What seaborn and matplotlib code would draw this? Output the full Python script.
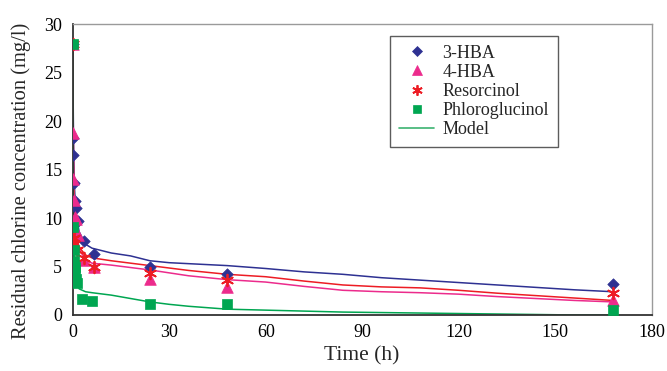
import numpy as np
import pandas as pd
import matplotlib
matplotlib.use("Agg")
import matplotlib.pyplot as plt
from matplotlib.lines import Line2D
import seaborn as sns

# Measured residual chlorine (mg/l) versus time (h)
t_3hba = [0, 0.1, 0.2, 0.4, 0.6, 1.0, 1.5, 3.5, 6.5, 24, 48, 168]
c_3hba = [28, 18.3, 16.5, 13.6, 11.8, 11.0, 9.7, 7.6, 6.3, 5.0, 4.2, 3.2]

t_4hba = [0, 0.1, 0.2, 0.5, 0.8, 1.0, 1.5, 3.5, 6.5, 24, 48, 168]
c_4hba = [28, 18.8, 14.0, 11.9, 10.1, 9.9, 8.3, 5.7, 5.0, 3.7, 2.9, 1.55]

t_res = [0, 0.1, 0.5, 0.3, 1.2, 3.5, 6.5, 24, 48, 168]
c_res = [28, 7.8, 8.0, 7.3, 6.7, 5.9, 5.0, 4.3, 3.6, 2.3]

t_phl = [0, 0.1, 0.25, 0.4, 0.6, 0.8, 1.0, 1.2, 3.0, 6.0, 24, 48, 168]
c_phl = [28, 9.1, 6.7, 5.6, 5.0, 4.6, 3.7, 3.3, 1.7, 1.4, 1.1, 1.1, 0.55]

# Model predictions
t_model = [0, 0.25, 0.5, 1, 2, 4, 6, 12, 18, 24, 30, 36, 48, 60, 72, 84, 96,
           108, 120, 132, 144, 156, 168]
m_3hba = [28, 18, 13.5, 10.5, 8.6, 7.3, 6.9, 6.4, 6.1, 5.6, 5.4, 5.3, 5.1, 4.8,
          4.45, 4.2, 3.85, 3.6, 3.35, 3.1, 2.85, 2.6, 2.4]
m_res = [28, 14, 10, 8, 7, 6.2, 5.9, 5.6, 5.35, 5.1, 4.85, 4.6, 4.2, 3.95, 3.5,
         3.1, 2.9, 2.8, 2.55, 2.25, 2.0, 1.75, 1.5]
m_4hba = [28, 16, 12, 9, 6.8, 5.7, 5.35, 5.15, 4.9, 4.65, 4.35, 4.05, 3.65, 3.4,
          2.95, 2.55, 2.4, 2.3, 2.15, 1.9, 1.7, 1.5, 1.35]
m_phl = [28, 9, 5.5, 3.5, 2.7, 2.4, 2.3, 2.05, 1.7, 1.35, 1.1, 0.9, 0.6, 0.5,
         0.4, 0.3, 0.25, 0.2, 0.15, 0.1, 0.05, 0.0, 0.0]

compounds = ["3-HBA", "4-HBA", "Resorcinol", "Phloroglucinol"]
colors = {"3-HBA": "#2e3192", "4-HBA": "#ec2b8c",
          "Resorcinol": "#ed1c24", "Phloroglucinol": "#00a651"}
markers = {"3-HBA": "D", "4-HBA": "^", "Resorcinol": (6, 2, 0),
           "Phloroglucinol": "s"}
sizes = {"3-HBA": 34, "4-HBA": 70, "Resorcinol": 70, "Phloroglucinol": 48}

obs = pd.concat([
    pd.DataFrame({"time": t_3hba, "conc": c_3hba, "compound": "3-HBA"}),
    pd.DataFrame({"time": t_4hba, "conc": c_4hba, "compound": "4-HBA"}),
    pd.DataFrame({"time": t_res, "conc": c_res, "compound": "Resorcinol"}),
    pd.DataFrame({"time": t_phl, "conc": c_phl, "compound": "Phloroglucinol"}),
], ignore_index=True)

model = pd.concat([
    pd.DataFrame({"time": t_model, "conc": m_3hba, "compound": "3-HBA"}),
    pd.DataFrame({"time": t_model, "conc": m_4hba, "compound": "4-HBA"}),
    pd.DataFrame({"time": t_model, "conc": m_res, "compound": "Resorcinol"}),
    pd.DataFrame({"time": t_model, "conc": m_phl, "compound": "Phloroglucinol"}),
], ignore_index=True)

sns.set_style("white")
plt.rcParams["font.family"] = ["Liberation Serif", "DejaVu Serif"]

fig = plt.figure(figsize=(6.67, 3.71), dpi=100)
ax = fig.add_axes([0.109, 0.151, 0.868, 0.783])

sns.lineplot(data=model, x="time", y="conc", hue="compound",
             palette=colors, linewidth=1.1, legend=False, ax=ax, zorder=2,
             sort=False)

for name in compounds:
    sub = obs[obs["compound"] == name]
    lw = 1.3 if name == "Resorcinol" else 0.5
    sns.scatterplot(data=sub, x="time", y="conc", color=colors[name],
                    marker=markers[name], s=sizes[name], linewidth=lw,
                    edgecolor=colors[name], ax=ax, zorder=3, legend=False)

ax.set_xlim(0, 180)
ax.set_ylim(0, 30)
ax.set_xticks(np.arange(0, 181, 30))
ax.set_yticks(np.arange(0, 31, 5))
ax.tick_params(direction="in", length=5, width=1, labelsize=13,
               colors="#222222", labelcolor="black")
ax.tick_params(axis="y", pad=7.5)
ax.tick_params(axis="x", pad=6.5)
ax.set_xlabel("Time (h)", fontsize=15.5, labelpad=4)
ax.set_ylabel("Residual chlorine concentration (mg/l)", fontsize=14.8)
ax.yaxis.set_label_coords(-0.072, 0.462)

for side in ["left", "bottom"]:
    ax.spines[side].set_color("#333333")
    ax.spines[side].set_linewidth(1.3)
for side in ["top", "right"]:
    ax.spines[side].set_color("#9a9a9a")
    ax.spines[side].set_linewidth(1.0)

handle_sizes = {"3-HBA": 5.5, "4-HBA": 7.5, "Resorcinol": 7.5,
                "Phloroglucinol": 6}
handles = [Line2D([], [], linestyle="none", marker=markers[n], color=colors[n],
                  markersize=handle_sizes[n],
                  markeredgewidth=1.3 if n == "Resorcinol" else 0.5)
           for n in compounds]
handles.append(Line2D([], [], color="#3cb371", linewidth=1.2))
labels = compounds + ["Model"]
leg = ax.legend(handles, labels, loc="upper left",
                bbox_to_anchor=(0.548, 0.962), fontsize=13, frameon=True,
                fancybox=False, edgecolor="#333333", handlelength=1.95,
                handletextpad=0.45, borderpad=0.5, labelspacing=0.12,
                borderaxespad=0)
leg.get_frame().set_linewidth(1.0)

fig.savefig("out.png", dpi=100)
